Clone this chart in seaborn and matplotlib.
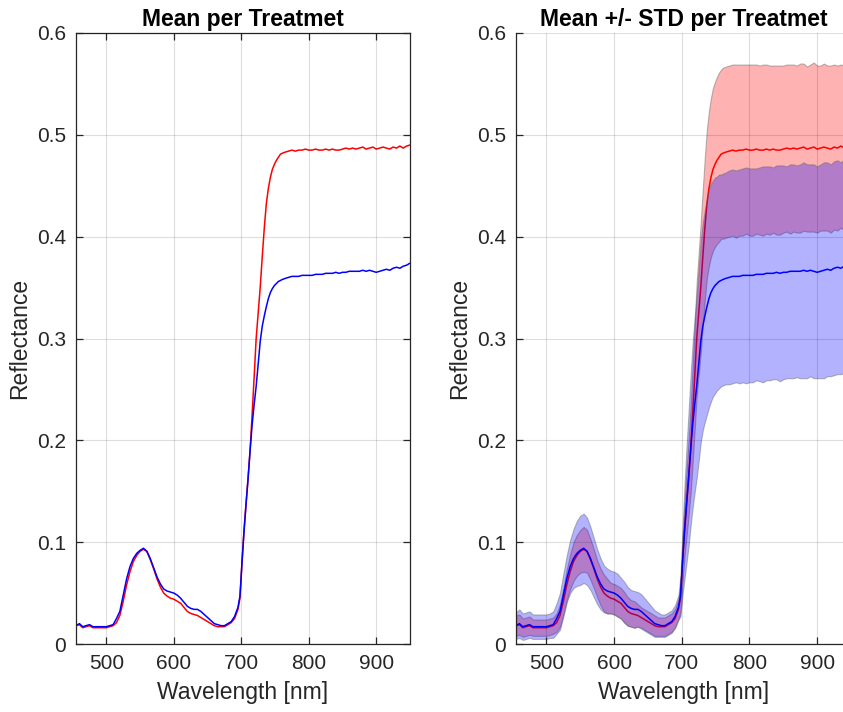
import matplotlib
matplotlib.use("Agg")
import matplotlib.pyplot as plt
import numpy as np
import pandas as pd
import seaborn as sns

# Sampling grid of the spectra [nm]
wavelength = [
    455, 460, 465, 470, 475, 480, 485, 490, 495, 500,
    505, 510, 515, 520, 525, 530, 535, 540, 545, 550,
    555, 560, 565, 570, 575, 580, 585, 590, 595, 600,
    605, 610, 615, 620, 625, 630, 635, 640, 645, 650,
    655, 660, 665, 670, 675, 680, 685, 690, 695,
    698, 701, 704, 707, 710, 713, 716, 719, 722, 725, 728,
    731, 734, 737, 740, 743, 746, 749, 752, 755, 758, 761,
    765, 770, 775, 780, 785, 790, 795, 800, 805, 810,
    815, 820, 825, 830, 835, 840, 845, 850, 855, 860,
    865, 870, 875, 880, 885, 890, 895, 900, 905, 910,
    915, 920, 925, 930, 935, 940, 945, 950,
]

# Treatment 1 (red): mean reflectance and standard deviation
red_mean = [
    0.018, 0.019, 0.016, 0.017, 0.018, 0.016, 0.016, 0.016, 0.016, 0.016,
    0.017, 0.018, 0.021, 0.028, 0.042, 0.058, 0.071, 0.081, 0.087, 0.091,
    0.093, 0.091, 0.083, 0.074, 0.064, 0.056, 0.050, 0.047, 0.045, 0.044,
    0.042, 0.040, 0.036, 0.032, 0.030, 0.029, 0.028, 0.026, 0.024, 0.022,
    0.020, 0.018, 0.017, 0.017, 0.017, 0.019, 0.021, 0.025, 0.034,
    0.045, 0.080, 0.112, 0.138, 0.163, 0.190, 0.225, 0.262, 0.300, 0.325, 0.350,
    0.380, 0.408, 0.432, 0.447, 0.458, 0.466, 0.471, 0.475, 0.478, 0.481, 0.482,
    0.483, 0.484, 0.485, 0.484, 0.485, 0.485, 0.486, 0.485, 0.485, 0.486,
    0.485, 0.485, 0.486, 0.485, 0.486, 0.485, 0.485, 0.486, 0.487, 0.486,
    0.487, 0.486, 0.487, 0.488, 0.486, 0.487, 0.488, 0.486, 0.487, 0.488,
    0.487, 0.486, 0.488, 0.487, 0.489, 0.487, 0.489, 0.490,
]
red_std = [
    0.010, 0.010, 0.009, 0.009, 0.009, 0.008, 0.008, 0.008, 0.008, 0.008,
    0.008, 0.008, 0.009, 0.011, 0.013, 0.015, 0.017, 0.019, 0.020, 0.021,
    0.022, 0.021, 0.020, 0.019, 0.018, 0.018, 0.018, 0.017, 0.015, 0.015,
    0.015, 0.015, 0.015, 0.014, 0.013, 0.013, 0.011, 0.010, 0.010, 0.010,
    0.010, 0.010, 0.009, 0.009, 0.009, 0.009, 0.009, 0.009, 0.010,
    0.014, 0.020, 0.026, 0.032, 0.037, 0.042, 0.047, 0.052, 0.056, 0.060, 0.064,
    0.067, 0.070, 0.073, 0.076, 0.078, 0.080, 0.081, 0.082, 0.083, 0.083, 0.084,
    0.084, 0.084, 0.084, 0.085, 0.084, 0.084, 0.083, 0.084, 0.084, 0.083,
    0.083, 0.084, 0.083, 0.083, 0.082, 0.083, 0.083, 0.082, 0.082, 0.083,
    0.082, 0.082, 0.083, 0.082, 0.081, 0.082, 0.083, 0.082, 0.081, 0.082,
    0.081, 0.082, 0.081, 0.081, 0.080, 0.081, 0.080, 0.080,
]

# Treatment 2 (blue): mean reflectance and standard deviation
blue_mean = [
    0.018, 0.020, 0.017, 0.018, 0.019, 0.017, 0.017, 0.017, 0.017, 0.017,
    0.018, 0.019, 0.025, 0.032, 0.048, 0.064, 0.076, 0.084, 0.089, 0.092,
    0.094, 0.091, 0.084, 0.075, 0.066, 0.059, 0.054, 0.052, 0.051, 0.050,
    0.048, 0.045, 0.041, 0.037, 0.035, 0.034, 0.034, 0.032, 0.029, 0.026,
    0.023, 0.020, 0.019, 0.018, 0.018, 0.020, 0.022, 0.027, 0.036,
    0.047, 0.080, 0.110, 0.137, 0.162, 0.190, 0.215, 0.235, 0.253, 0.275, 0.297,
    0.312, 0.322, 0.331, 0.339, 0.345, 0.349, 0.352, 0.354, 0.356, 0.357, 0.358,
    0.359, 0.360, 0.361, 0.361, 0.361, 0.362, 0.362, 0.362, 0.362, 0.363,
    0.363, 0.363, 0.364, 0.364, 0.364, 0.365, 0.364, 0.365, 0.365, 0.366,
    0.366, 0.366, 0.366, 0.367, 0.366, 0.367, 0.366, 0.365, 0.366, 0.367,
    0.368, 0.367, 0.369, 0.370, 0.369, 0.371, 0.372, 0.374,
]
blue_std = [
    0.013, 0.014, 0.013, 0.013, 0.013, 0.012, 0.012, 0.012, 0.012, 0.012,
    0.012, 0.013, 0.015, 0.018, 0.021, 0.023, 0.026, 0.029, 0.032, 0.034,
    0.034, 0.033, 0.031, 0.029, 0.027, 0.025, 0.023, 0.022, 0.021, 0.021,
    0.021, 0.020, 0.020, 0.019, 0.018, 0.018, 0.017, 0.017, 0.016, 0.015,
    0.014, 0.013, 0.012, 0.011, 0.011, 0.011, 0.011, 0.011, 0.012,
    0.020, 0.032, 0.046, 0.057, 0.066, 0.074, 0.081, 0.086, 0.090, 0.095, 0.099,
    0.102, 0.104, 0.106, 0.107, 0.107, 0.106, 0.106, 0.105, 0.105, 0.104, 0.104,
    0.104, 0.105, 0.105, 0.104, 0.105, 0.105, 0.106, 0.105, 0.105, 0.104,
    0.105, 0.106, 0.105, 0.105, 0.104, 0.105, 0.106, 0.105, 0.104, 0.105,
    0.105, 0.104, 0.105, 0.106, 0.105, 0.104, 0.105, 0.104, 0.105, 0.106,
    0.105, 0.104, 0.105, 0.105, 0.104, 0.105, 0.104, 0.106,
]

x_ticks = [500, 600, 700, 800, 900]
y_ticks = [0, 0.1, 0.2, 0.3, 0.4, 0.5, 0.6]
y_tick_labels = ["0", "0.1", "0.2", "0.3", "0.4", "0.5", "0.6"]

treatments = ["T1", "T2"]
colors = {"T1": "#ff0000", "T2": "#0000ff"}

frames = []
for name, mean, std in [("T1", red_mean, red_std), ("T2", blue_mean, blue_std)]:
    frames.append(pd.DataFrame({
        "Wavelength": wavelength,
        "Reflectance": mean,
        "Std": std,
        "Treatment": name,
    }))
spectra = pd.concat(frames, ignore_index=True)
spectra["Lower"] = spectra["Reflectance"] - spectra["Std"]
spectra["Upper"] = spectra["Reflectance"] + spectra["Std"]

sns.set_theme(style="white")
plt.rcParams["font.family"] = ["Liberation Sans", "DejaVu Sans"]

INK = "#262626"
W, H = 843, 712
fig = plt.figure(figsize=(W / 100, H / 100), dpi=100)
ax_mean = fig.add_axes([76 / W, 68 / H, 334 / W, 611 / H])
ax_std = fig.add_axes([516 / W, 68 / H, 335 / W, 611 / H])


def style_axes(ax, title, boxed):
    ax.set_xlim(455, 950)
    ax.set_ylim(0, 0.6)
    ax.set_xticks(x_ticks)
    ax.set_yticks(y_ticks)
    ax.set_yticklabels(y_tick_labels)
    ax.set_axisbelow(False)
    ax.grid(True, color="black", alpha=0.13, linewidth=0.8)
    for side, spine in ax.spines.items():
        spine.set_color(INK)
        spine.set_linewidth(0.9)
    if not boxed:
        ax.spines["top"].set_visible(False)
        ax.spines["right"].set_visible(False)
    ax.tick_params(axis="both", direction="in", length=5, width=0.9,
                   colors=INK, labelsize=15, pad=7,
                   top=boxed, right=boxed, bottom=True, left=True)
    ax.set_xlabel("Wavelength [nm]", fontsize=16.5, color=INK, labelpad=6)
    ax.set_ylabel("Reflectance", fontsize=16.5, color=INK, labelpad=4)
    ax.set_title(title, fontsize=16.5, fontweight="bold", color="black", pad=5)


# Left panel: mean spectra
sns.lineplot(data=spectra, x="Wavelength", y="Reflectance", hue="Treatment",
             palette=colors, hue_order=treatments, estimator=None,
             linewidth=1.1, legend=False, ax=ax_mean)
style_axes(ax_mean, "Mean per Treatmet", boxed=True)

# Right panel: mean with +/- one standard deviation band
z = 1
for name in treatments:
    sub = spectra[spectra["Treatment"] == name]
    ax_std.fill_between(sub["Wavelength"], sub["Lower"], sub["Upper"],
                        facecolor=matplotlib.colors.to_rgba(colors[name], 0.3),
                        edgecolor=(0.4, 0.4, 0.4, 0.45), linewidth=0.8,
                        zorder=z)
    sns.lineplot(data=sub, x="Wavelength", y="Reflectance", color=colors[name],
                 estimator=None, linewidth=1.1, legend=False, ax=ax_std,
                 zorder=z + 0.5)
    z += 1
style_axes(ax_std, "Mean +/- STD per Treatmet", boxed=False)

fig.savefig("out.png", dpi=100)
